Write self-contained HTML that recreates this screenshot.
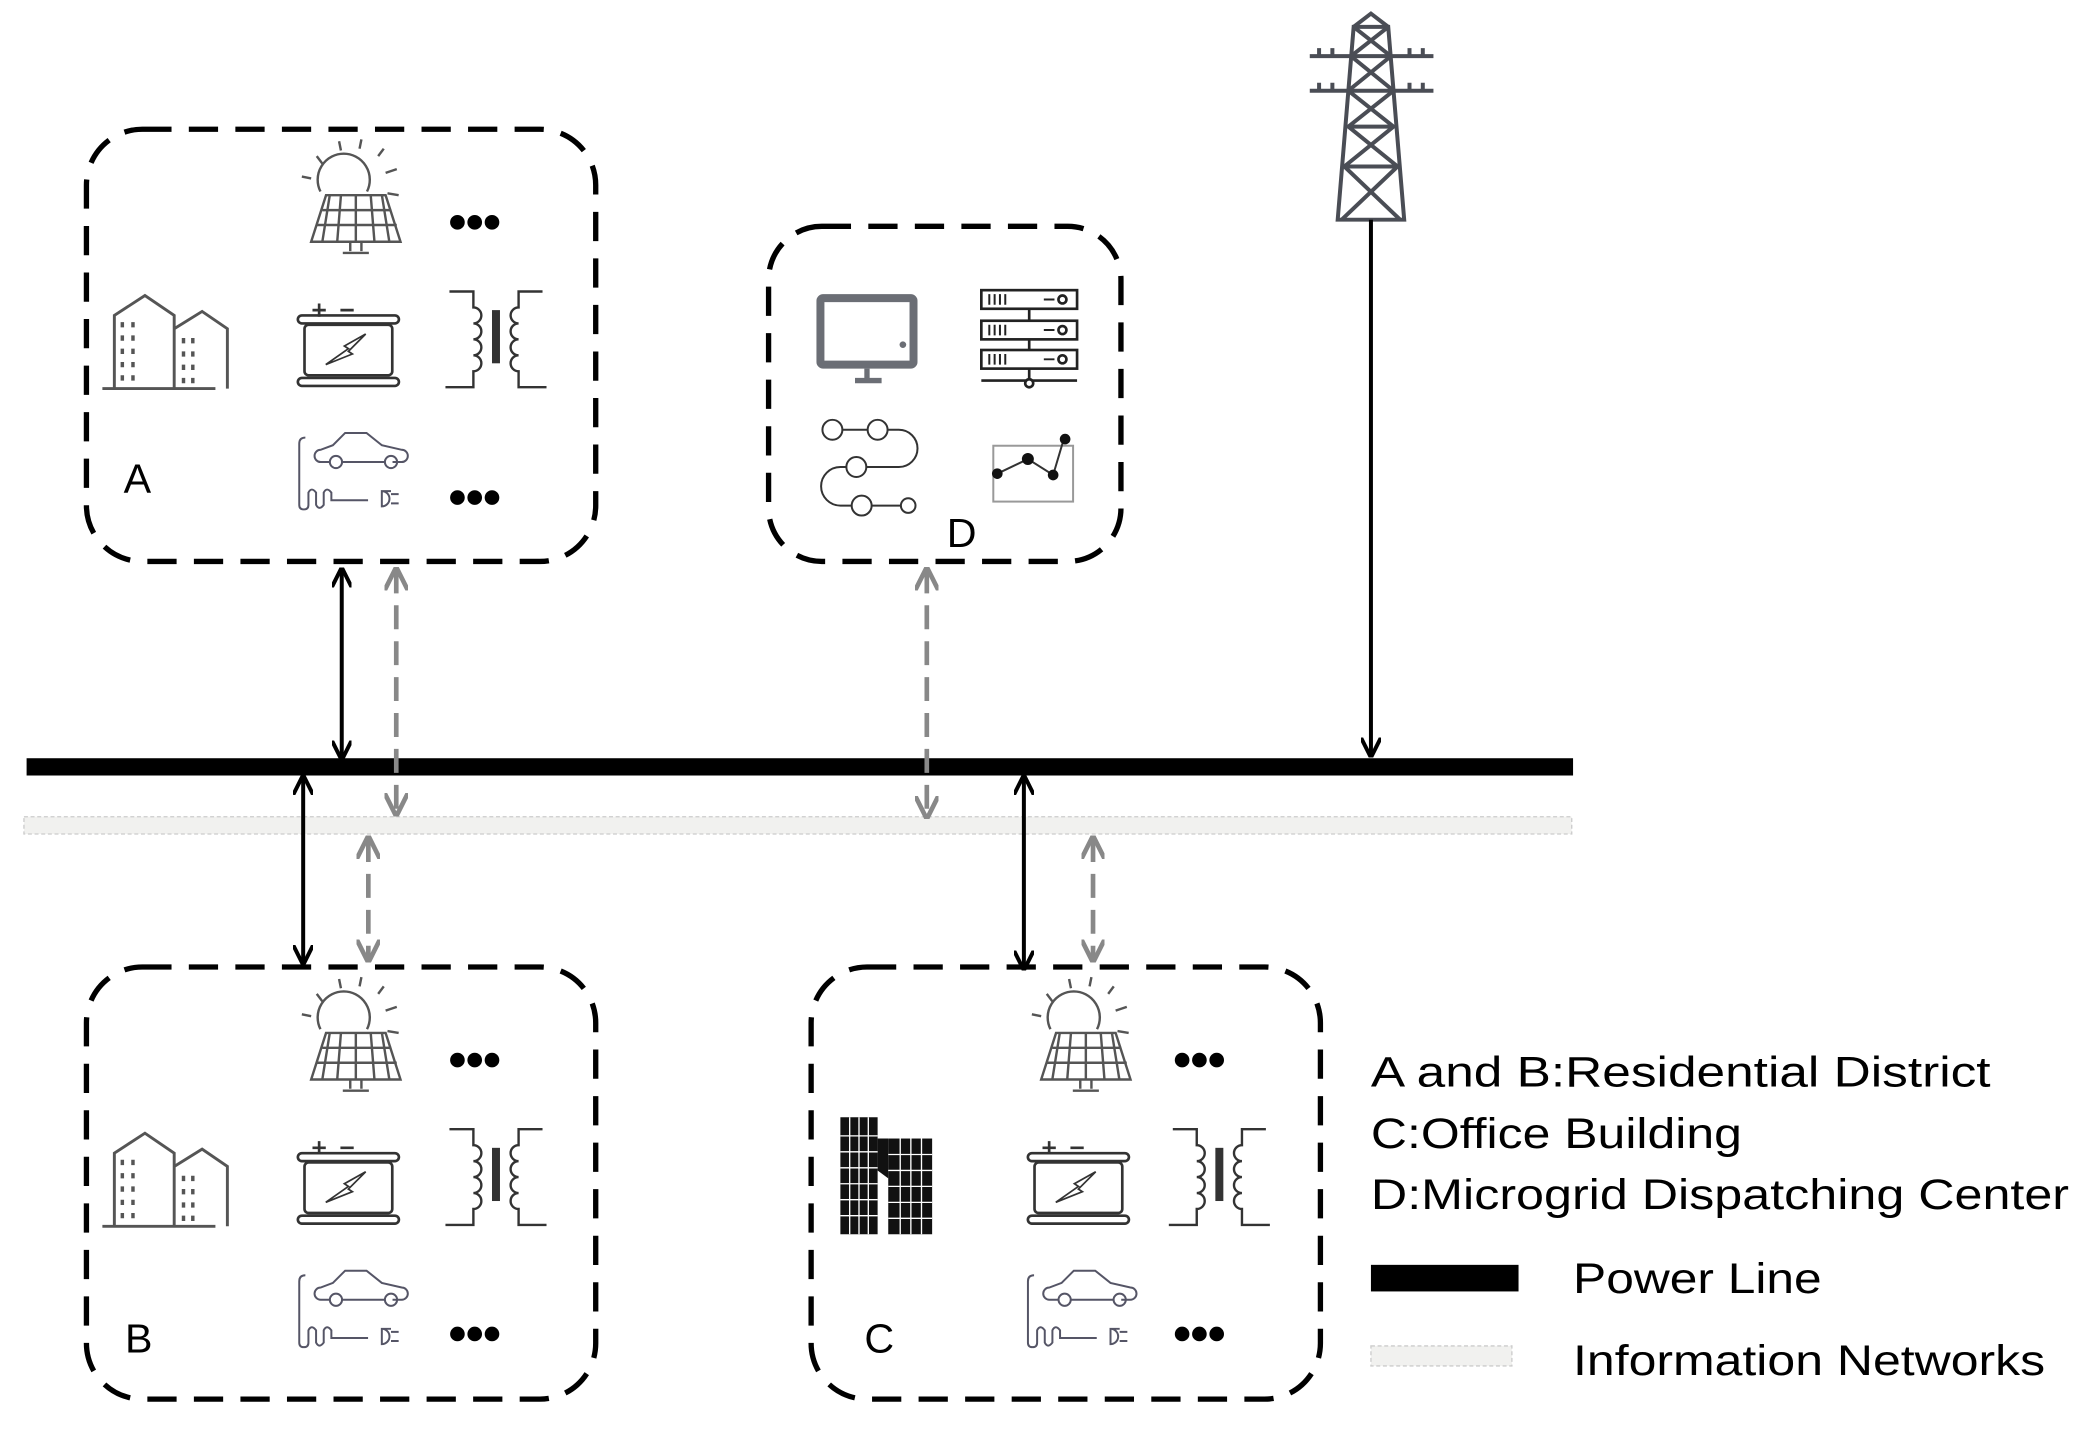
<!DOCTYPE html>
<html><head><meta charset="utf-8"><style>html,body{margin:0;padding:0;background:#fff}svg{display:block}</style></head>
<body>
<svg width="2085" height="1438" viewBox="0 0 1568 1081" xmlns="http://www.w3.org/2000/svg" font-family="Liberation Sans, sans-serif">
<defs>
<marker id="ak" viewBox="0 0 10 10" refX="9" refY="5" markerWidth="5" markerHeight="5" orient="auto-start-reverse"><path d="M0,0 L10,5 L0,10" fill="none" stroke="#000" stroke-width="2"/></marker>
<marker id="ag" viewBox="0 0 10 10" refX="9" refY="5" markerWidth="5" markerHeight="5" orient="auto-start-reverse"><path d="M0,0 L10,5 L0,10" fill="none" stroke="#888" stroke-width="2"/></marker>
<g id="solar0" stroke="#555" fill="none" stroke-width="1.3">
<path d="M-25,-3 A14,14 0 1 1 0,-3"/>
<path d="M-24,-18 l-3,-4 M-14,-25 l-1,-5 M-4,-26 l1,-5 M6,-22 l3,-4 M10,-13 l6,-2 M11,-2 l6,1 M8,6 l4,4 M-30,-10 l-5,-1"/>
<path d="M-22,-1 L10,-1 L18,24 L-30,24 Z" fill="#fff"/>
<path d="M-24,7 L13,7 M-27,15 L16,15 M-14,-1 L-16,24 M-6,-1 L-6,24 M2,-1 L4,24 M-20,-1 L-24,24 M8,-1 L12,24"/>
<path d="M-9,24 v5 M-3,24 v5 M-13,30 h14"/></g>
<g id="solar"><use href="#solar0" transform="scale(1.4)"/></g>
<g id="dots" fill="#000"><circle cx="-13" cy="0" r="5.5"/><circle cx="0" cy="0" r="5.5"/><circle cx="13" cy="0" r="5.5"/></g>
<g id="bld" stroke="#555" fill="none" stroke-width="2.2">
<path d="M-55,0 H30 M-46,0 V-55 L-23,-70 L-1,-55 V0 M-1,-45 L20,-58 L39,-45 V0" transform="translate(8,0)"/>
<g stroke-width="2.6"><path d="M-32,-50 v4 M-24,-50 v4 M-32,-40 v4 M-24,-40 v4 M-32,-30 v4 M-24,-30 v4 M-32,-20 v4 M-24,-20 v4 M-32,-10 v4 M-24,-10 v4 M14,-38 v4 M21,-38 v4 M14,-28 v4 M21,-28 v4 M14,-18 v4 M21,-18 v4 M14,-8 v4 M21,-8 v4"/></g></g>
<g id="batt" stroke="#333" fill="none" stroke-width="2">
<rect x="-38" y="-19" width="76" height="6" rx="3"/><rect x="-38" y="28" width="76" height="6" rx="3"/>
<rect x="-33" y="-12" width="66" height="38" rx="3"/>
<path d="M-22,-28 v10 M-27,-23 h10 M-6,-23 h10"/>
<path d="M-17,18 L0,6 L-3,4 L13,-5 L0,8 L3,10 Z" stroke-width="1.3"/></g>
<g id="xf" stroke="#333" fill="none" stroke-width="1.8">
<path d="M-32,-36 H-14 V-24 a6,6 0 0 1 0,12 a6,6 0 0 1 0,12 a6,6 0 0 1 0,12 a6,6 0 0 1 0,12 V36 H-35"/>
<path d="M38,-36 H20 V-24 a6,6 0 0 0 0,12 a6,6 0 0 0 0,12 a6,6 0 0 0 0,12 a6,6 0 0 0 0,12 V36 H41"/>
<rect x="0" y="-22" width="6" height="40" fill="#333" stroke="none"/></g>
<g id="ev0" stroke="#556" fill="none" stroke-width="1.3">
<path d="M-13,15 h-6 a4,4 0 0 1 0,-8 l8,-3 l8,-8 h14 l10,8 l13,3 a4,4 0 0 1 0,8 h-6"/>
<circle cx="-9" cy="15" r="4"/><circle cx="27" cy="15" r="4"/><path d="M-5,15 h28"/>
<path d="M-29,-1 q-4,0 -4,4 v40 q0,3 3,3 q3,0 3,-3 v-8 q2,-4 5,0 v8 q2,4 5,0 v-8 q2,-4 5,0 v5 h24"/>
<path d="M21,34 a5,5 0 0 1 0,10 v-10 h6 M27,36 h5 M27,42 h5"/></g>
<g id="ev"><use href="#ev0" transform="scale(1.15)"/></g>
<g id="bldK" fill="#111"><rect x="-33" y="-44" width="28" height="88"/><rect x="3" y="-28" width="33" height="72"/><path d="M-5,-28 h8 v30 l-8,-6z"/>
<g stroke="#fff" stroke-width="1"><path d="M-33,-30 h28 M-33,-18 h28 M-33,-6 h28 M-33,6 h28 M-33,18 h28 M-33,30 h28 M-26,-44 v88 M-19,-44 v88 M-12,-44 v88 M3,-16 h33 M3,-4 h33 M3,8 h33 M3,20 h33 M3,32 h33 M12,-28 v72 M20,-28 v72 M28,-28 v72"/></g></g>
</defs>

<g fill="none" stroke="#000" stroke-width="4" stroke-dasharray="22,13">
<rect x="65" y="97" width="383" height="325" rx="42"/>
<rect x="578" y="170" width="265" height="252" rx="40"/>
<rect x="65" y="727" width="383" height="325" rx="42"/>
<rect x="610" y="727" width="383" height="325" rx="42"/>
</g>

<!-- A -->
<use href="#solar" x="276" y="148"/><use href="#dots" x="357" y="167"/>
<use href="#bld" x="124" y="292"/><use href="#batt" x="262" y="256"/><use href="#xf" x="370" y="255"/>
<use href="#ev" x="263" y="330"/><use href="#dots" x="357" y="374"/>
<text x="93" y="370" font-size="31">A</text>
<!-- B -->
<use href="#solar" x="276" y="778"/><use href="#dots" x="357" y="797"/>
<use href="#bld" x="124" y="922"/><use href="#batt" x="262" y="886"/><use href="#xf" x="370" y="885"/>
<use href="#ev" x="263" y="960"/><use href="#dots" x="357" y="1003"/>
<text x="94" y="1017" font-size="31">B</text>
<!-- C -->
<use href="#solar" x="825" y="778"/><use href="#dots" x="902" y="797"/>
<use href="#bldK" x="665" y="884"/><use href="#batt" x="811" y="886"/><use href="#xf" x="914" y="885"/>
<use href="#ev" x="811" y="960"/><use href="#dots" x="902" y="1003"/>
<text x="650" y="1017" font-size="31">C</text>
<!-- D -->
<g>
<rect x="617" y="224" width="70" height="50" rx="2" fill="none" stroke="#6b6e75" stroke-width="6"/>
<circle cx="679" cy="259" r="2.5" fill="#6b6e75"/><path d="M652,277 v8 M643,286 h20" stroke="#6b6e75" stroke-width="4"/>
<g stroke="#222" fill="none" stroke-width="2">
<rect x="738" y="218" width="72" height="14"/><rect x="738" y="241" width="72" height="14"/><rect x="738" y="263" width="72" height="14"/>
<path d="M774,232 v9 M774,255 v8 M774,277 v9 M738,286 h72"/>
<path d="M744,221 v8 M748,221 v8 M752,221 v8 M756,221 v8 M744,244 v8 M748,244 v8 M752,244 v8 M756,244 v8 M744,266 v8 M748,266 v8 M752,266 v8 M756,266 v8 M785,225 h8 M785,248 h8 M785,270 h8" stroke-width="1.5"/>
<circle cx="799" cy="225" r="3"/><circle cx="799" cy="248" r="3"/><circle cx="799" cy="270" r="3"/><circle cx="774" cy="288" r="3" fill="#fff"/>
</g>
<g stroke="#333" fill="#fff" stroke-width="1.5">
<path d="M626,323 H676 A14,14 0 0 1 676,351 H632 A14.5,14.5 0 0 0 632,380 H683" fill="none"/>
<circle cx="626" cy="323" r="7.5"/><circle cx="660" cy="323" r="7.5"/><circle cx="644" cy="351" r="7.5"/><circle cx="648" cy="380" r="7.5"/><circle cx="683" cy="380" r="5.5"/>
</g>
<rect x="747" y="335" width="60" height="42" fill="none" stroke="#999" stroke-width="1.5"/>
<path d="M750,356 L773,345 L792,357 L800,330" fill="none" stroke="#333" stroke-width="1.5"/>
<g fill="#111"><circle cx="750" cy="356" r="4"/><circle cx="773" cy="345" r="4.5"/><circle cx="792" cy="357" r="4"/><circle cx="801" cy="330" r="4"/></g>
</g>
<text x="712" y="411" font-size="31">D</text>

<!-- tower -->
<g stroke="#4a4d55" stroke-width="3" fill="none">
<path d="M1018,20 L1044,20 L1056,165 L1006,165 Z"/>
<path d="M1018,20 L1031,10 L1044,20"/>
<path d="M985,42 H1078 M985,68 H1078 M992,42 v-6 M1002,42 v-6 M1060,42 v-6 M1070,42 v-6 M992,68 v-6 M1002,68 v-6 M1060,68 v-6 M1070,68 v-6"/>
<path d="M1018,20 L1046,42 L1014,68 L1048,95 L1011,125 L1053,165 M1044,20 L1016,42 L1048,68 L1014,95 L1051,125 L1009,165 M1016,95 H1048 M1012,125 H1051"/>
</g>

<rect x="18" y="614" width="1164" height="13" fill="#f1f1ef" stroke="#ccc" stroke-width="1" stroke-dasharray="3,2"/>
<rect x="20" y="570" width="1163" height="13" fill="#000"/>

<g stroke="#000" stroke-width="3" fill="none">
<line x1="257" y1="428" x2="257" y2="570" marker-start="url(#ak)" marker-end="url(#ak)"/>
<line x1="228" y1="584" x2="228" y2="724" marker-start="url(#ak)" marker-end="url(#ak)"/>
<line x1="770" y1="584" x2="770" y2="728" marker-start="url(#ak)" marker-end="url(#ak)"/>
<line x1="1031" y1="165" x2="1031" y2="568" marker-end="url(#ak)"/>
</g>
<g stroke="#888" stroke-width="3.5" fill="none" stroke-dasharray="18,9">
<line x1="298" y1="428" x2="298" y2="612" marker-start="url(#ag)" marker-end="url(#ag)"/>
<line x1="277" y1="630" x2="277" y2="722" marker-start="url(#ag)" marker-end="url(#ag)"/>
<line x1="697" y1="428" x2="697" y2="614" marker-start="url(#ag)" marker-end="url(#ag)"/>
<line x1="822" y1="630" x2="822" y2="722" marker-start="url(#ag)" marker-end="url(#ag)"/>
</g>

<g font-size="32" fill="#000">
<text x="1031" y="817" textLength="466" lengthAdjust="spacingAndGlyphs">A and  B:Residential District</text>
<text x="1031" y="863" textLength="279" lengthAdjust="spacingAndGlyphs">C:Office Building</text>
<text x="1031" y="909" textLength="525" lengthAdjust="spacingAndGlyphs">D:Microgrid Dispatching Center</text>
<text x="1183" y="972" textLength="187" lengthAdjust="spacingAndGlyphs">Power Line</text>
<text x="1183" y="1034" textLength="355" lengthAdjust="spacingAndGlyphs">Information Networks</text>
</g>
<rect x="1031" y="951" width="111" height="20" fill="#000"/>
<rect x="1031" y="1012" width="106" height="15" fill="#f1f1ef" stroke="#ccc" stroke-width="1" stroke-dasharray="3,2"/>
</svg>
</body></html>
